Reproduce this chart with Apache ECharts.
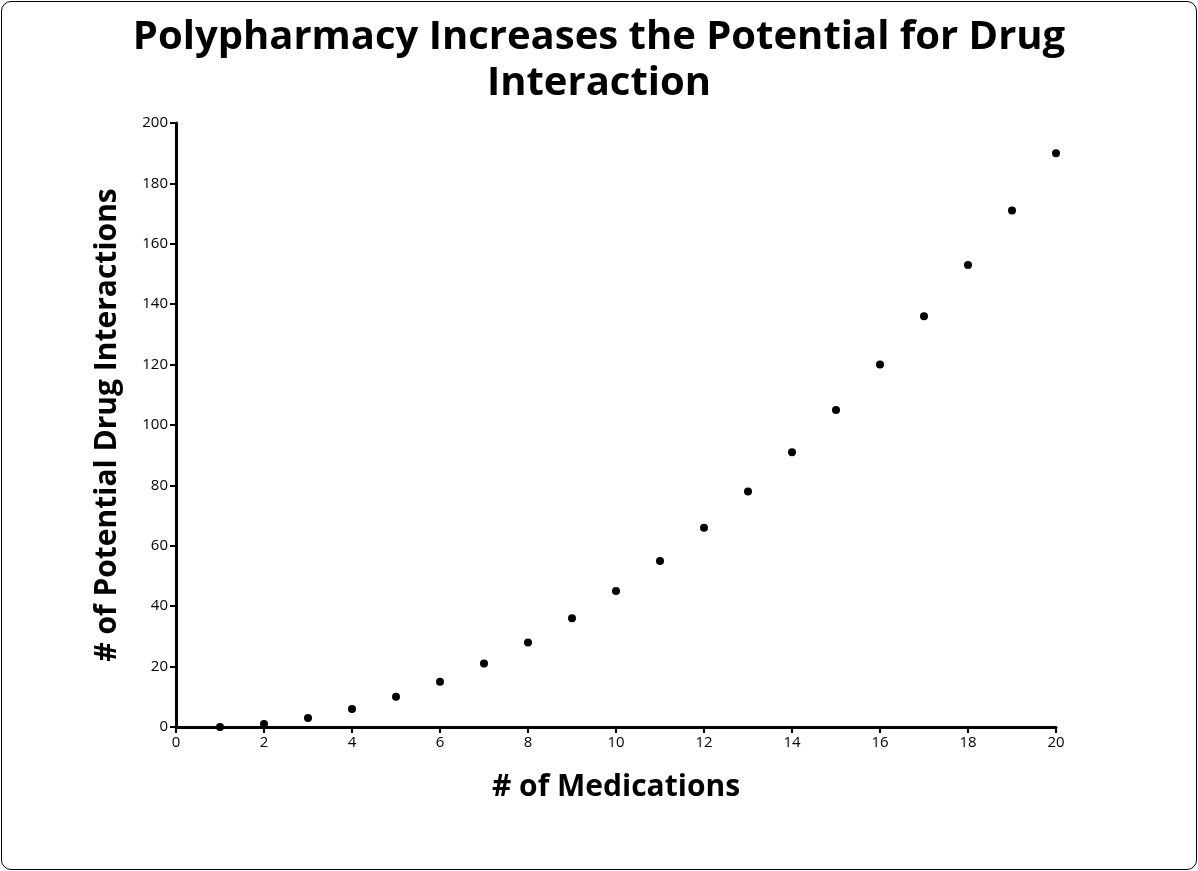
<!DOCTYPE html>
<html><head><meta charset="utf-8">
<script src="https://cdn.jsdelivr.net/npm/echarts@6/dist/echarts.min.js"></script>
<style>html,body{margin:0;padding:0;background:#fff}
#c{position:absolute;left:0;top:0;width:1198px;height:871px}
#b{position:absolute;left:1px;top:1px;width:1194px;height:867px;border:1px solid #000;border-radius:10px;pointer-events:none}</style>
</head><body><div id="c"></div><div id="b"></div>
<script>
const medications = [1,2,3,4,5,6,7,8,9,10,11,12,13,14,15,16,17,18,19,20];
const interactions = [0,1,3,6,10,15,21,28,36,45,55,66,78,91,105,120,136,153,171,190];
const titleText = 'Polypharmacy Increases the Potential for Drug\nInteraction';
const xName = '# of Medications';
const yName = '# of Potential Drug Interactions';
const F = '"Open Sans", sans-serif';
const chart = echarts.init(document.getElementById('c'));
const axisCommon = {
  axisLine:{show:true,lineStyle:{color:'#000',width:3}},
  axisTick:{show:true,inside:false,length:6,lineStyle:{color:'#000',width:2}},
  splitLine:{show:false},
  axisLabel:{color:'#000',fontFamily:F,fontSize:15}
};
chart.setOption({
  animation:false,
  title:{text:titleText,left:'center',top:10,textStyle:{fontFamily:F,fontWeight:'bold',fontSize:40,lineHeight:46,color:'#000'}},
  grid:{left:176,right:142,top:123,bottom:144},
  xAxis:Object.assign({type:'value',min:0,max:20,interval:2,name:xName,nameLocation:'middle',nameGap:45,
    nameTextStyle:{fontFamily:F,fontWeight:'bold',fontSize:30,color:'#000'}},axisCommon),
  yAxis:Object.assign({type:'value',min:0,max:200,interval:20,name:yName,nameLocation:'middle',nameGap:54,
    nameTextStyle:{fontFamily:F,fontWeight:'bold',fontSize:30,color:'#000'}},axisCommon),
  series:[{type:'scatter',symbolSize:8,itemStyle:{color:'#000',opacity:1},
    data:medications.map((m,i)=>[m,interactions[i]])}]
});
</script></body></html>
